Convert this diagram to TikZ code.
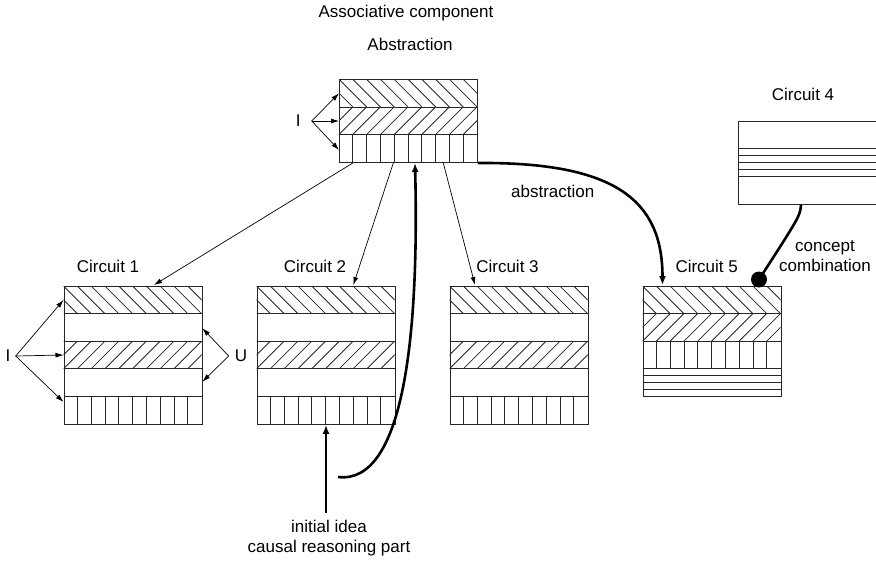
\documentclass[tikz,border=0pt]{standalone}
\usepackage{fontspec}
\setmainfont{Liberation Sans}
\usetikzlibrary{arrows.meta,calc}

\tikzset{
  box/.style={draw=black!85, line width=0.9pt, inner sep=0pt, minimum width=138pt, anchor=north west},
  hatch/.style={draw=black!85, line width=0.8pt},
  thinarrow/.style={line width=0.7pt, -{Latex[length=8pt,width=5pt]}},
  thickline/.style={line width=2.6pt},
  thickarrow/.style={line width=2.6pt, -{Latex[length=9pt,width=7pt]}},
  lbl/.style={font=\fontsize{17}{20}\selectfont, inner sep=0pt, align=center},
}

% one band of a memory block: left x, top y (y grows downwards)
\newcommand\bandback[2]{%
  \begin{scope}\clip (#1,#2) rectangle ++(138,27.6);
  \foreach \k in {0,...,12}{\draw[hatch] ({#1+13.8*(\k-2)},#2) -- ({#1+13.8*\k},{#2+27.6});}
  \end{scope}}
\newcommand\bandfwd[2]{%
  \begin{scope}\clip (#1,#2) rectangle ++(138,27.6);
  \foreach \k in {-2,...,10}{\draw[hatch] ({#1+13.8*\k},{#2+27.6}) -- ({#1+13.8*(\k+2)},#2);}
  \end{scope}}
\newcommand\bandcells[2]{\foreach \k in {1,...,9}{\draw[hatch] ({#1+13.8*\k},#2) -- ++(0,27.6);}}
\newcommand\bandstrips[2]{\foreach \k in {1,2,3}{\draw[hatch] (#1,{#2+6.9*\k}) -- ++(138,0);}}
\newcommand\bandsep[2]{\draw[hatch] (#1,#2) -- ++(138,0);}

% a five-band circuit: back hatch, empty, forward hatch, empty, cells
\newcommand\circuitfive[3]{%
  \bandback{#1}{#2}
  \bandsep{#1}{#2+27.6}
  \bandfwd{#1}{#2+55.2}
  \bandsep{#1}{#2+55.2}
  \bandsep{#1}{#2+82.8}
  \bandsep{#1}{#2+110.4}
  \bandcells{#1}{#2+110.4}
  \node[box, minimum height=138pt] (#3) at (#1,#2) {};}

\begin{document}
\begin{tikzpicture}[x=1pt, y=-1pt]
\useasboundingbox (0,0) rectangle (876,562);

% titles
\node[lbl] (assoc) at (406,13) {Associative component};
\node[lbl] (abstitle) at (410,44) {Abstraction};

% abstraction block
\bandback{339}{79.3}
\bandfwd{339}{106.9}
\bandsep{339}{106.9}
\bandsep{339}{134.5}
\bandcells{339}{134.5}
\node[box, minimum height=82.8pt] (ab) at (339,79.3) {};

% circuits 1-3
\circuitfive{63.5}{286}{c1}
\circuitfive{256.5}{286}{c2}
\circuitfive{449.5}{286}{c3}

% circuit 5
\bandback{642.5}{286}
\bandfwd{642.5}{313.6}
\bandsep{642.5}{313.6}
\bandsep{642.5}{341.2}
\bandcells{642.5}{341.2}
\bandsep{642.5}{368.8}
\bandstrips{642.5}{368.8}
\node[box, minimum height=110.4pt] (c5) at (642.5,286) {};

% circuit 4
\bandsep{737.5}{148.6}
\bandstrips{737.5}{148.6}
\bandsep{737.5}{176.2}
\node[box, minimum height=82.8pt] (c4) at (737.5,121) {};

% labels
\node[lbl] (l1) at (108,266) {Circuit 1};
\node[lbl] (l2) at (315,266) {Circuit 2};
\node[lbl] (l3) at (507.5,266) {Circuit 3};
\node[lbl] (l5) at (706.7,266) {Circuit 5};
\node[lbl] (l4) at (803,94) {Circuit 4};
\node[lbl] (labs) at (552.7,191) {abstraction};
\node[lbl] (lcc) at (825,256.5) {concept\\combination};
\node[lbl] (lidea) at (329,538.5) {initial idea\\causal reasoning part};

% inputs of the abstraction block
\node[lbl] (iab) at (298.3,121) {I};
\coordinate (iabp) at (311.7,121);
\draw[thinarrow] (iabp) -- ($(ab.north west)+(0,14)$);
\draw[thinarrow] (iabp) -- ($(ab.north west)+(0,41.7)$);
\draw[thinarrow] (iabp) -- ($(ab.north west)+(0,70.7)$);

% inputs and outputs of circuit 1
\node[lbl] (ic1) at (8,356) {I};
\coordinate (ic1p) at (15.7,356);
\draw[thinarrow] (ic1p) -- ($(c1.north west)+(0,14)$);
\draw[thinarrow] (ic1p) -- ($(c1.north west)+(0,69)$);
\draw[thinarrow] (ic1p) -- ($(c1.north west)+(0,116)$);
\node[lbl] (uc1) at (241,356) {U};
\coordinate (uc1p) at (228.7,356);
\draw[thinarrow] (uc1p) -- ($(c1.north east)+(0,42.3)$);
\draw[thinarrow] (uc1p) -- ($(c1.north east)+(0,95.7)$);

% abstraction block feeding the circuits
\draw[thinarrow] ($(ab.south west)+(13.8,0)$) -- ($(c1.north west)+(90.5,-1)$);
\draw[thinarrow] ($(ab.south west)+(54.3,0)$) -- ($(c2.north west)+(96.8,-1)$);
\draw[thinarrow] ($(ab.south west)+(104.3,0)$) -- ($(c3.north west)+(25.5,-1)$);

% causal reasoning loop back into the abstraction block
\coordinate (loopstart) at (338,477);
\draw[thickarrow] (loopstart) .. controls (405,485) and (419,330) .. ($(ab.south west)+(76,0)$);

% initial idea entering circuit 2
\coordinate (ideastart) at (326,513);
\draw[thickarrow] (ideastart) -- ($(c2.south west)+(69.5,0)$);

% abstraction into circuit 5
\draw[thickarrow] (ab.south east) .. controls (615,162) and (662.5,200) .. ($(c5.north west)+(20,-1)$);

% concept combination from circuit 4
\node[circle, fill=black, inner sep=0pt, minimum size=16pt] (dot) at (759,279.5) {};
\draw[thickline] ($(c4.south west)+(63.5,0)$) .. controls (800,216) .. (dot.center);
\end{tikzpicture}
\end{document}
